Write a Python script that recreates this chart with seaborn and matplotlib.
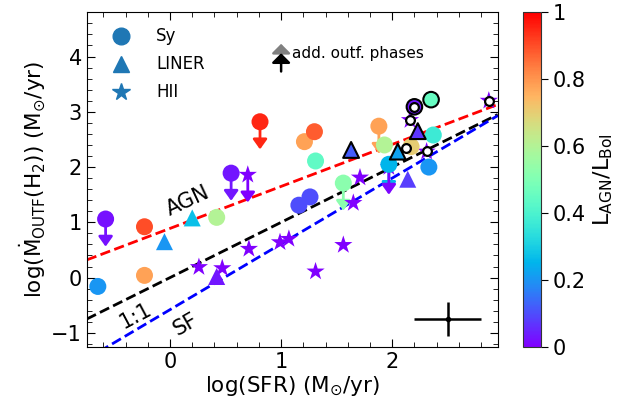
import numpy as np
import pandas as pd
import matplotlib
matplotlib.use("Agg")
import matplotlib.pyplot as plt
import seaborn as sns
from matplotlib.lines import Line2D
from matplotlib.ticker import MultipleLocator, FuncFormatter

# ---------------- data ----------------
# Seyferts (circles, no edge)
sy_x = [-0.65, -0.58, -0.23, -0.23, 0.42, 0.55, 0.81, 1.21, 1.30, 1.31, 1.16, 1.26, 1.56, 1.88, 1.93, 1.97, 2.17, 2.37, 2.33]
sy_y = [-0.16, 1.06, 0.92, 0.04, 1.09, 1.89, 2.82, 2.46, 2.64, 2.11, 1.31, 1.46, 1.71, 2.74, 2.40, 2.05, 2.37, 2.58, 2.00]
sy_c = [0.20, 0.02, 0.90, 0.78, 0.60, 0.03, 0.95, 0.78, 0.88, 0.44, 0.10, 0.10, 0.52, 0.78, 0.60, 0.25, 0.70, 0.37, 0.20]
sy_lim = [0, 1, 0, 0, 0, 1, 1, 0, 0, 0, 0, 0, 1, 1, 0, 1, 0, 0, 0]
# Seyferts with black edge
sye_x = [2.35, 2.20]
sye_y = [3.22, 3.09]
sye_c = [0.45, 0.03]
# LINERs
li_x = [-0.05, 0.20, 0.42, 2.14]
li_y = [0.65, 1.08, 0.02, 1.78]
li_c = [0.20, 0.27, 0.03, 0.08]
lie_x = [1.63, 2.05, 2.23]
lie_y = [2.31, 2.28, 2.65]
lie_c = [0.12, 0.22, 0.07]
# HII (stars)
hii_x = [0.26, 0.47, 0.71, 0.99, 1.07, 1.31, 1.56, 1.65, 1.71, 0.70, 2.16, 2.31, 2.87, 1.97]
hii_y = [0.19, 0.17, 0.52, 0.64, 0.70, 0.11, 0.59, 1.35, 1.81, 1.86, 2.85, 2.28, 3.20, 2.00]
hii_c = [0.0, 0.0, 0.0, 0.0, 0.0, 0.0, 0.0, 0.0, 0.0, 0.0, 0.0, 0.0, 0.0, 0.01]
hii_lim = [0, 0, 0, 0, 0, 0, 0, 0, 0, 1, 0, 0, 0, 1]
# additional outflow phases (white circles)
add_x = [2.20, 2.16, 2.12, 2.31, 2.87]
add_y = [3.09, 2.85, 2.34, 2.29, 3.20]
# relations
agn_slope, agn_int = 0.76, 0.89
sf_slope, sf_int = 1.19, -0.58
lim_len = 0.5
err_pt = (2.5, -0.75)
err_size = 0.3

# ---------------- figure ----------------
plt.rcParams['font.family'] = ['DejaVu Sans']
fig = plt.figure(figsize=(6.4, 4.11), dpi=100)
ax = fig.add_axes([0.1355, 0.1565, 0.6422, 0.8135])
cax = fig.add_axes([0.8175, 0.1565, 0.028, 0.8135])

cmap = plt.get_cmap('rainbow')
norm = matplotlib.colors.Normalize(0, 1)
xlim = (-0.75, 2.95)
ylim = (-1.25, 4.8)

xx = np.array(xlim)
ax.plot(xx, agn_slope * xx + agn_int, ls='--', color='red', lw=2, zorder=1)
ax.plot(xx, xx, ls='--', color='black', lw=2, zorder=1)
ax.plot(xx, sf_slope * xx + sf_int, ls='--', color='blue', lw=2, zorder=1)

# upper-limit arrows
def arrows(xs, ys, cs, lims):
    for x, y, c, l in zip(xs, ys, cs, lims):
        if l:
            ax.annotate('', xy=(x, y - lim_len), xytext=(x, y),
                        arrowprops=dict(arrowstyle='-|>,head_width=0.3,head_length=0.42',
                                        color=cmap(norm(c)), lw=2,
                                        mutation_scale=14, shrinkA=0, shrinkB=0),
                        zorder=2)

arrows(sy_x, sy_y, sy_c, sy_lim)
arrows(hii_x, hii_y, hii_c, hii_lim)

def scat(xs, ys, cs, marker, s, edge=None, z=3):
    df = pd.DataFrame({'x': xs, 'y': ys, 'c': cs})
    kw = dict(edgecolor=edge, linewidth=1.5) if edge else dict(linewidth=0)
    sns.scatterplot(data=df, x='x', y='y', hue='c', palette='rainbow', hue_norm=(0, 1),
                    marker=marker, s=s, legend=False, ax=ax, zorder=z, **kw)

scat(hii_x, hii_y, hii_c, '*', 190)
scat(sy_x, sy_y, sy_c, 'o', 150)
scat(li_x, li_y, li_c, '^', 150)
scat(sye_x, sye_y, sye_c, 'o', 125, edge='black', z=4)
scat(lie_x, lie_y, lie_c, '^', 130, edge='black', z=4)
sns.scatterplot(x=add_x, y=add_y, marker='o', s=40, color='white', edgecolor='black',
                linewidth=1.6, ax=ax, zorder=5, legend=False)

# error bar
ax.errorbar([err_pt[0]], [err_pt[1]], xerr=err_size, yerr=err_size, fmt='o', color='black',
            ms=3, lw=1.8, zorder=3)

# texts on lines
ax.text(0.16, 1.38, 'AGN', rotation=25, fontsize=15, ha='center', va='center')
ax.text(-0.31, -0.70, '1:1', rotation=28, fontsize=15, ha='center', va='center')
ax.text(0.14, -0.85, 'SF', rotation=30, fontsize=15, ha='center', va='center')

# add. outf. phases legend
ax.annotate('', xy=(1.0, 4.23), xytext=(1.0, 3.95),
            arrowprops=dict(arrowstyle='-|>,head_width=0.4,head_length=0.4', color='grey',
                            lw=1.8, mutation_scale=14, shrinkA=0, shrinkB=0))
ax.annotate('', xy=(1.0, 4.06), xytext=(1.0, 3.73),
            arrowprops=dict(arrowstyle='-|>,head_width=0.4,head_length=0.4', color='black',
                            lw=1.8, mutation_scale=14, shrinkA=0, shrinkB=0))
ax.text(1.1, 4.05, 'add. outf. phases', fontsize=11, va='center', ha='left')

# type legend
handles = [Line2D([], [], marker='o', ls='', color='#1f77b4', ms=12),
           Line2D([], [], marker='^', ls='', color='#1f77b4', ms=12),
           Line2D([], [], marker='*', ls='', color='#1f77b4', ms=13)]
ax.legend(handles, ['Sy', 'LINER', 'HII'], loc='upper left', frameon=False, fontsize=12,
          handletextpad=1.1, labelspacing=0.6, bbox_to_anchor=(0.015, 0.99), borderaxespad=0.3)

ax.set_xlim(xlim)
ax.set_ylim(ylim)
ax.xaxis.set_major_locator(MultipleLocator(1))
ax.xaxis.set_minor_locator(MultipleLocator(0.2))
ax.yaxis.set_major_locator(MultipleLocator(1))
ax.yaxis.set_minor_locator(MultipleLocator(0.2))
ax.tick_params(which='both', direction='in', top=True, right=True, labelsize=15)
ax.tick_params(which='major', length=6)
ax.tick_params(which='minor', length=3.5)
ax.set_xlabel(r'log(SFR) (M$_{\odot}$/yr)', fontsize=15.5, labelpad=2)
ax.set_ylabel(r'log($\dot{\rm M}_{\rm OUTF}$(H$_2$)) (M$_{\odot}$/yr)', fontsize=15.5, labelpad=2)

cb = matplotlib.colorbar.ColorbarBase(cax, cmap=cmap, norm=norm)
cb.set_ticks([0, 0.2, 0.4, 0.6, 0.8, 1.0])
cb.ax.yaxis.set_major_formatter(FuncFormatter(lambda v, p: '%g' % v))
cb.ax.tick_params(labelsize=15, length=5)
cb.outline.set_edgecolor('#333333')
cb.set_label(r'L$_{\rm AGN}$/L$_{\rm Bol}$', fontsize=16)

fig.savefig('out.png', dpi=100)
